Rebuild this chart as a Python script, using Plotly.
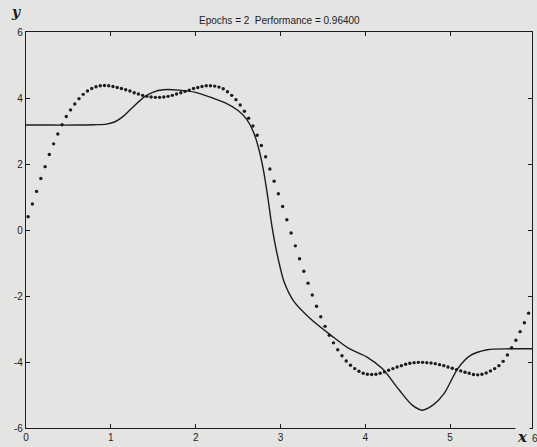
import numpy as np
import plotly.graph_objects as go

# Network output (solid curve)
net_x = [0.0, 0.3, 0.6, 0.8, 0.95, 1.05, 1.15, 1.25, 1.4, 1.5, 1.62, 1.8, 2.0, 2.2, 2.35,
         2.5, 2.6, 2.68, 2.74, 2.8, 2.85, 2.9, 2.95, 3.04, 3.16, 3.35, 3.6, 3.8,
         4.02, 4.2, 4.4, 4.55, 4.67, 4.8, 4.93, 5.09, 5.24, 5.44, 5.7, 5.965]
net_y = [3.18, 3.18, 3.18, 3.19, 3.21, 3.28, 3.45, 3.70, 4.04, 4.18, 4.25, 4.24, 4.17, 4.0, 3.85,
         3.62, 3.36, 2.98, 2.5, 1.8, 1.0, 0.1, -0.6, -1.55, -2.17, -2.68, -3.2, -3.58,
         -3.85, -4.2, -4.85, -5.3, -5.46, -5.3, -4.95, -4.2, -3.8, -3.63, -3.6, -3.6]

# Target function samples (dotted curve), one every 0.05 starting at 0.025
target_y = [
    0.40, 0.79, 1.17, 1.56, 1.92, 2.29, 2.61, 2.91, 3.19, 3.44,
    3.64, 3.82, 3.98, 4.11, 4.21, 4.29, 4.34, 4.37, 4.38, 4.37,
    4.35, 4.32, 4.29, 4.25, 4.21, 4.16, 4.12, 4.08, 4.05, 4.03,
    4.02, 4.02, 4.03, 4.05, 4.08, 4.12, 4.16, 4.20, 4.24, 4.29,
    4.32, 4.35, 4.37, 4.37, 4.36, 4.33, 4.28, 4.19, 4.08, 3.95,
    3.79, 3.60, 3.39, 3.15, 2.87, 2.56, 2.22, 1.85, 1.48, 1.10,
    0.71, 0.31, -0.09, -0.48, -0.87, -1.25, -1.61, -1.97, -2.31, -2.63,
    -2.92, -3.19, -3.42, -3.63, -3.81, -3.97, -4.10, -4.20, -4.28, -4.34,
    -4.37, -4.38, -4.37, -4.34, -4.30, -4.25, -4.20, -4.15, -4.11, -4.07,
    -4.04, -4.02, -4.01, -4.01, -4.02, -4.03, -4.05, -4.08, -4.11, -4.15,
    -4.19, -4.23, -4.27, -4.31, -4.34, -4.38, -4.39, -4.37, -4.33, -4.27,
    -4.20, -4.11, -3.98, -3.79, -3.57, -3.34, -3.08, -2.81, -2.52,
]
target_x = 0.025 + 0.05 * np.arange(len(target_y))

x_ticks = [0, 1, 2, 3, 4, 5]
y_ticks = [-6, -4, -2, 0, 2, 4, 6]
y_tick_text = ["-6", "-4", "-2", "0", "2", "4", "6"]
title_text = "Epochs = 2  Performance = 0.96400"

ink = "#1c1c1c"
bg = "#e4e4e2"

fig = go.Figure()
fig.add_trace(go.Scatter(
    x=target_x, y=target_y, mode="markers",
    marker=dict(size=3.4, color=ink), hoverinfo="skip",
))
fig.add_trace(go.Scatter(
    x=net_x, y=net_y, mode="lines",
    line=dict(color=ink, width=1.4, shape="spline", smoothing=0.8), hoverinfo="skip",
))

axis_common = dict(
    showline=True, linecolor=ink, linewidth=1.2, mirror="ticks",
    ticks="inside", ticklen=4, tickwidth=1, tickcolor=ink,
    showgrid=False, zeroline=False,
    tickfont=dict(family="Liberation Sans, Arial, sans-serif", size=10, color=ink),
)

fig.update_layout(
    width=537, height=447,
    margin=dict(l=26, r=4, t=32, b=16),
    paper_bgcolor=bg, plot_bgcolor=bg,
    showlegend=False,
    xaxis=dict(range=[0, 5.965], tickvals=x_ticks, **axis_common),
    yaxis=dict(range=[-6, 6], tickvals=y_ticks, ticktext=y_tick_text, **axis_common),
    annotations=[
        dict(text=title_text, xref="paper", yref="paper", x=0.5, y=1,
             yshift=12, xanchor="center", yanchor="middle", showarrow=False,
             font=dict(family="Liberation Sans, Arial, sans-serif", size=10, color=ink)),
        dict(text="<b><i>y</i></b>", xref="paper", yref="paper", x=0, y=1,
             xshift=-10, yshift=20, xanchor="center", yanchor="middle", showarrow=False,
             font=dict(family="DejaVu Serif, serif", size=14, color=ink)),
        dict(text="6", xref="paper", yref="paper", x=1, y=0,
             xshift=3, yshift=-10, xanchor="center", yanchor="middle", showarrow=False,
             font=dict(family="Liberation Sans, Arial, sans-serif", size=10, color=ink)),
        dict(text="<b><i>x</i></b>", xref="paper", yref="paper", x=1, y=0,
             xshift=-10, yshift=-9, xanchor="center", yanchor="middle", showarrow=False,
             bgcolor=bg,
             font=dict(family="DejaVu Serif, serif", size=15, color=ink)),
    ],
)

fig.write_html("out.html")
